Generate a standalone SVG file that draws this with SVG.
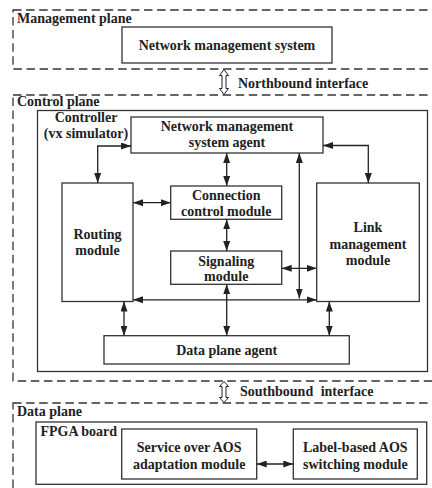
<svg xmlns="http://www.w3.org/2000/svg" width="432" height="488" viewBox="0 0 432 488">
<style>
.bg{fill:#fff}
.frame{fill:none;stroke:#333;stroke-width:1.3;stroke-dasharray:8.5 4.6}
.box{fill:#fff;stroke:#333;stroke-width:1.3}
.t{font-family:"Liberation Serif","Times New Roman",serif;font-weight:bold;font-size:14px;fill:#222}
.c{text-anchor:middle}
.ln{fill:none;stroke:#222;stroke-width:1.3;marker-start:url(#ah);marker-end:url(#ah)}
.hol{fill:#fff;stroke:#222;stroke-width:1}
</style>
<defs>
<marker id="ah" viewBox="0 0 10 7" refX="10" refY="3.5" markerWidth="10" markerHeight="7" markerUnits="userSpaceOnUse" orient="auto-start-reverse">
<path d="M0,0 L10,3.5 L0,7 z" fill="#222"/>
</marker>
</defs>
<rect class="bg" x="0" y="0" width="432" height="488"/>

<g id="management-plane">
<rect class="frame" x="13" y="10" width="440" height="59"/>
<text class="t" x="17" y="22.5">Management plane</text>
</g>
<g id="nms">
<rect class="box" x="122" y="27" width="210" height="36"/>
<text class="t c" x="227" y="50">Network management system</text>
</g>

<g id="control-plane">
<rect class="frame" x="13" y="95" width="440" height="286"/>
<text class="t" x="17" y="105.5">Control plane</text>
</g>
<g id="controller">
<rect class="box" x="37.5" y="110.5" width="390" height="261"/>
<text class="t c" x="86" y="121.5">Controller</text>
<text class="t c" x="86" y="137.5">(vx simulator)</text>
</g>
<g id="nms-agent">
<rect class="box" x="131" y="117" width="192" height="36"/>
<text class="t c" x="227" y="130.5">Network management</text>
<text class="t c" x="227" y="147">system agent</text>
</g>
<g id="routing">
<rect class="box" x="62" y="183" width="71" height="118.5"/>
<text class="t c" x="97.5" y="238.5">Routing</text>
<text class="t c" x="97.5" y="255">module</text>
</g>
<g id="connection-control">
<rect class="box" x="170.7" y="186" width="111" height="33.3"/>
<text class="t c" x="226.2" y="199.5">Connection</text>
<text class="t c" x="226.2" y="216">control module</text>
</g>
<g id="signaling">
<rect class="box" x="170.7" y="251" width="111" height="33.3"/>
<text class="t c" x="226.2" y="265.5">Signaling</text>
<text class="t c" x="226.2" y="281">module</text>
</g>
<g id="link-management">
<rect class="box" x="316.7" y="183" width="102.6" height="118.5"/>
<text class="t c" x="368" y="232">Link</text>
<text class="t c" x="368" y="248.5">management</text>
<text class="t c" x="368" y="265">module</text>
</g>
<g id="data-plane-agent">
<rect class="box" x="104" y="335.7" width="245.3" height="28.3"/>
<text class="t c" x="226.7" y="355">Data plane agent</text>
</g>

<g id="data-plane">
<rect class="frame" x="13" y="403" width="440" height="120"/>
<text class="t" x="17" y="415.5">Data plane</text>
</g>
<g id="fpga-board">
<rect class="box" x="36" y="422" width="390.7" height="62.3"/>
<text class="t" x="40.5" y="436">FPGA board</text>
</g>
<g id="service-adaptation">
<rect class="box" x="121.7" y="429" width="135" height="50"/>
<text class="t c" x="189.2" y="452">Service over AOS</text>
<text class="t c" x="189.2" y="469">adaptation module</text>
</g>
<g id="label-switching">
<rect class="box" x="293.3" y="429" width="124" height="50"/>
<text class="t c" x="355.3" y="452">Label-based AOS</text>
<text class="t c" x="355.3" y="469">switching module</text>
</g>

<g id="interfaces">
<polygon class="hol" points="224,69.5 228.5,75.5 226,75.5 226,88.5 228.5,88.5 224,94.5 219.5,88.5 222,88.5 222,75.5 219.5,75.5"/>
<text class="t" x="238" y="88">Northbound interface</text>
<polygon class="hol" points="224,381.5 228.5,386.5 226,386.5 226,397.5 228.5,397.5 224,402.5 219.5,397.5 222,397.5 222,386.5 219.5,386.5"/>
<text class="t" x="240" y="396" style="word-spacing:4px">Southbound interface</text>
</g>

<g id="connectors">
<path class="ln" d="M131,146 H97.7 V183"/>
<path class="ln" d="M323,145.5 H368.3 V183"/>
<path class="ln" d="M226.7,153 V186"/>
<path class="ln" d="M133,202.7 H170.7"/>
<path class="ln" d="M226.7,219.3 V251"/>
<path class="ln" d="M281.7,268.3 H316.7"/>
<path class="ln" d="M299.3,153 V298.5"/>
<path class="ln" d="M133,299.8 H316.7"/>
<path class="ln" d="M226.7,284.3 V335.7"/>
<path class="ln" d="M124,301.5 V335.7"/>
<path class="ln" d="M329.3,301.5 V335.7"/>
<path class="ln" d="M256.7,464 H293.3"/>
</g>
</svg>
